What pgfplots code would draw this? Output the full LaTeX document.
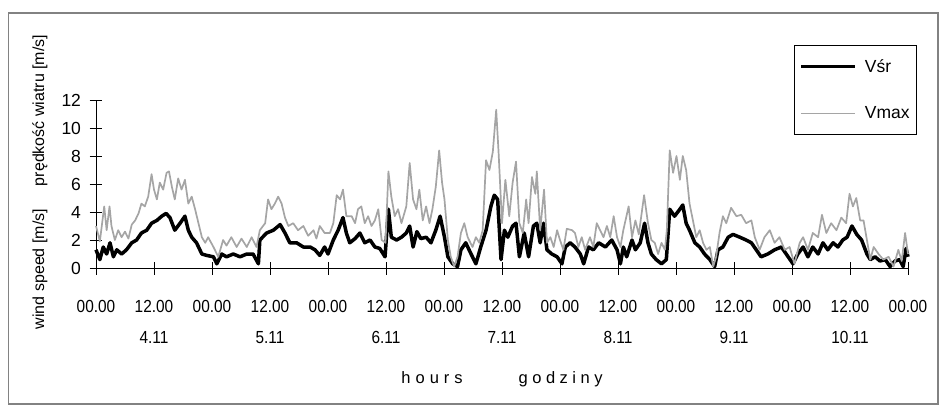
\documentclass[border=0pt]{standalone}
\usepackage{fontspec}
\setmainfont{Liberation Sans}
\usepackage{pgfplots}
\pgfplotsset{compat=1.18}
\definecolor{vmaxgray}{RGB}{165,165,165}
\definecolor{framegray}{RGB}{130,130,130}
\newcommand{\tl}[1]{\scalebox{0.88}[1]{#1}}

% hourly wind speed, 4.11 00.00 -> 11.11 00.00 (h from start)
\pgfplotstableread{
h v
0 1.3
0.8 0.6
1.5 1.5
2.2 1.0
2.9 1.8
3.6 0.8
4.3 1.3
5.3 1.0
6.3 1.3
7.4 1.8
8.4 2.0
9.4 2.5
10.5 2.7
11.5 3.2
12.6 3.4
13.6 3.7
14.5 3.9
15.3 3.6
16.3 2.7
17.4 3.2
18.4 3.7
19.1 2.7
19.8 2.2
20.8 1.8
21.9 1.0
22.9 0.9
24.3 0.8
25 0.3
26 1.0
27 0.8
28.4 1.0
29.8 0.8
31.2 1.0
32.5 1.0
33.6 0.3
33.9 2.0
35.3 2.5
36.7 2.7
38.1 3.1
39.1 2.5
40.1 1.8
41.5 1.8
42.9 1.5
44.3 1.5
45.3 1.3
46.3 0.9
47.3 1.5
48 1.0
49.1 2.0
50.1 2.7
51.1 3.6
51.8 2.5
52.5 1.8
53.6 2.1
54.6 2.5
55.6 1.8
56.7 2.0
57.7 1.5
58.7 1.4
59.8 0.8
60.5 4.2
61.1 2.2
62.2 2.0
63.2 2.2
64.2 2.5
64.9 3.0
65.6 1.5
66.4 2.6
67.2 2.1
68.3 2.2
69.3 1.8
70.3 2.7
71.2 3.7
72.1 2.2
72.8 0.8
73.8 0.3
74.8 0.1
75.5 1.3
76.5 1.8
77.6 1.0
78.6 0.3
79.6 1.5
80.7 2.7
81.7 4.4
82.4 5.2
83.1 4.9
83.8 0.6
84.5 2.7
85.2 2.2
86.2 3.0
86.9 3.2
87.6 0.8
88.6 2.5
89.5 0.8
90.5 3.0
91.2 3.2
91.9 1.8
92.6 3.2
93.3 1.3
94.3 1.0
95.4 0.8
96.4 0.3
97.1 1.5
98.1 1.8
99.1 1.5
100.2 1.0
100.9 0.3
101.9 1.5
102.9 1.3
104 1.8
105.4 1.5
106.7 2.0
107.8 1.3
108.5 0.3
109.1 1.5
109.8 0.8
110.9 2.0
111.6 1.3
112.6 1.8
113.5 3.2
114.2 1.8
114.9 1.0
115.9 0.6
117 0.3
118 0.6
118.7 4.2
119.7 3.7
120.8 4.2
121.4 4.5
122.1 3.2
122.8 2.7
123.9 1.8
124.9 1.5
125.9 1.0
127 0.6
128 0.1
128.7 1.3
129.7 1.5
130.8 2.2
131.8 2.4
133.2 2.2
134.5 2.0
135.6 1.8
136.6 1.3
137.6 0.8
139 1.0
140.4 1.3
141.8 1.5
143.2 0.8
144.2 0.3
145.2 1.0
146.3 1.5
147.3 0.8
148.3 1.5
149.4 1.0
150.4 1.8
151.4 1.3
152.5 1.8
153.5 1.5
154.5 2.0
155.4 2.2
156.4 3.0
157.4 2.4
158.4 2.0
159.5 1.0
160.2 0.6
161.2 0.8
162.2 0.5
163.3 0.6
164.3 0.1
165.3 0.5
166.3 0.6
167 0.1
167.6 1.4
168 0.8
}\vsr

\pgfplotstableread{
h v
0 3.0
0.8 1.9
1.7 4.4
2.2 2.7
2.8 4.4
3.2 3.0
3.9 2.0
4.6 2.7
5.3 2.2
6.0 2.6
6.7 2.1
7.4 3.1
8.1 3.4
8.8 3.9
9.4 4.6
10.1 4.4
10.8 5.1
11.5 6.7
12 5.6
12.6 4.9
13.2 6.1
13.9 5.6
14.6 6.8
15.1 6.9
15.7 5.8
16.3 4.9
17 6.4
17.7 5.6
18.4 6.3
19.1 4.6
19.8 5.1
20.5 4.2
21.2 3.2
21.9 2.2
22.6 1.8
23.2 2.2
24.3 1.5
25.3 0.8
26.3 2.0
27 1.6
28 2.2
29.1 1.5
30.1 2.1
31.2 1.5
32.2 2.2
33.2 1.5
33.9 2.7
35 3.2
35.6 4.9
36.3 4.2
37 4.6
37.7 5.1
38.4 4.6
39.1 3.6
39.8 3.0
40.8 3.2
41.8 2.7
42.9 3.0
43.9 2.3
45 2.7
45.6 2.1
46.3 3.0
47.3 2.5
48.4 2.5
49.1 3.2
49.8 5.2
50.5 4.9
51.1 5.6
51.8 3.7
52.9 3.7
53.6 3.2
54.2 4.2
54.9 4.4
55.6 3.2
56.3 3.7
57 3.0
57.7 3.4
58.4 4.2
59.1 2.0
59.9 1.8
60.5 6.9
61.1 5.1
61.8 3.7
62.5 4.2
63.2 3.2
64.2 4.4
64.9 7.5
65.6 4.9
66.3 4.2
66.9 5.6
67.6 3.4
68.3 4.4
69 3.2
69.6 4.2
70.3 5.8
71 8.4
71.6 6.1
72.1 4.9
72.8 2.0
73.4 0.8
74.1 0.1
74.8 0.8
75.5 2.5
76.2 3.2
76.9 2.2
77.9 1.5
78.6 2.2
79.3 1.8
80 2.7
80.7 7.7
81.4 7.0
82.1 8.3
82.8 11.3
83.3 8.2
84 3.2
84.7 6.3
85.5 3.7
86.2 6.1
86.9 7.6
87.6 3.2
88.3 2.5
89 4.9
89.5 3.2
90.2 6.5
90.9 5.3
91.2 6.9
91.9 2.7
92.7 5.6
93.3 1.8
94 2.2
94.7 1.5
95.4 2.7
96 2.0
96.7 1.3
97.4 2.8
98.5 2.7
99.1 2.5
99.8 1.5
100.5 2.2
101.2 1.3
102.2 2.2
102.9 1.5
103.6 3.2
104.3 2.7
105 2.2
105.7 3.0
106.4 2.2
107.1 3.7
107.8 2.2
108.5 1.5
109.1 2.7
110.2 4.4
110.9 2.2
111.6 3.4
112.3 2.4
113.4 5.2
114.2 3.2
114.9 2.0
115.6 1.8
116.3 1.0
117 1.8
117.7 1.3
118.1 2.7
118.7 8.4
119.4 6.8
120.1 8.0
120.8 6.3
121.4 8.0
122.1 7.0
122.8 4.6
123.5 3.4
124.2 2.2
124.9 2.7
125.6 1.8
126.3 1.3
127 1.5
127.7 0.1
128.3 0.8
129 2.5
129.7 3.7
130.4 3.2
131.4 4.3
132.5 3.7
133.5 3.8
134.5 3.2
135.6 3.4
136.3 2.2
137.3 1.3
138.3 2.2
139.4 2.7
140.4 1.8
141.4 2.2
142.5 1.3
143.5 1.5
144.5 0.3
145.6 1.8
146.3 2.2
147.3 1.3
148.3 2.5
149.4 2.2
150.2 3.8
151.1 2.5
152.1 3.2
153.2 2.7
154.2 3.6
155.2 3.2
155.9 5.3
156.6 4.4
157.3 5.0
158.1 3.4
158.8 3.4
159.5 2.0
160.2 0.6
160.9 1.5
161.9 1.0
162.9 0.6
164 0.8
165 0.1
166 1.3
166.7 0.5
167.4 2.5
168 1.0
}\vmax

\begin{document}
\begin{tikzpicture}[x=1pt,y=1pt]
\useasboundingbox (0,0) rectangle (943,408);
\draw[framegray, line width=1.5pt] (8.5,4) rectangle (938,395);

\begin{axis}[
  at={(96pt,140pt)}, anchor=south west,
  scale only axis, width=812pt, height=168pt,
  xmin=0, xmax=168, ymin=0, ymax=12,
  axis x line=bottom, axis y line=left,
  axis line style={-, black, line width=0.8pt},
  tick style={black, line width=0.8pt},
  tick align=center, major tick length=13pt,
  xtick={0,12,...,168}, ytick={0,2,...,12},
  xticklabels={\tl{00.00},{\tl{12.00}\\[11pt]\tl{4.11}},\tl{00.00},{\tl{12.00}\\[11pt]\tl{5.11}},
    \tl{00.00},{\tl{12.00}\\[11pt]\tl{6.11}},\tl{00.00},{\tl{12.00}\\[11pt]\tl{7.11}},
    \tl{00.00},{\tl{12.00}\\[11pt]\tl{8.11}},\tl{00.00},{\tl{12.00}\\[11pt]\tl{9.11}},
    \tl{00.00},{\tl{12.00}\\[11pt]\tl{10.11}},\tl{00.00}},
  xticklabel style={align=center, font=\fontsize{17.5}{20}\selectfont, anchor=north, yshift=-22pt},
  yticklabel style={font=\fontsize{17.5}{20}\selectfont, xshift=-5pt},
  /pgf/number format/assume math mode=true,
  legend style={at={(1.0111,1.327)}, anchor=north east, draw=black, line width=0.8pt,
    font=\fontsize{17.5}{20}\selectfont, inner xsep=5pt, inner ysep=12pt, row sep=29pt,
    /tikz/every odd column/.append style={column sep=6pt}},
  legend cell align=left,
  legend image code/.code={\draw[#1] (0pt,0pt) -- (54pt,0pt);},
  clip=false,
]
\addplot[black, line width=3.5pt, line join=round] table[x=h, y=v] {\vsr};
\addlegendentry{Vśr}
\addplot[vmaxgray, line width=1.7pt, line join=round] table[x=h, y=v] {\vmax};
\addlegendentry{Vmax}
\end{axis}

\node[rotate=90, font=\fontsize{16}{18}\selectfont] at (40,226)
  {wind speed [m/s]\hspace{23pt}prędkość wiatru [m/s]};
\node[font=\fontsize{16.5}{18}\selectfont] at (502,29)
  {h\kern5pt o\kern5pt u\kern5pt r\kern5pt s\hspace{56pt}g\kern4.5pt o\kern4.5pt d\kern4.5pt z\kern4.5pt i\kern4.5pt n\kern4.5pt y};
\end{tikzpicture}
\end{document}
